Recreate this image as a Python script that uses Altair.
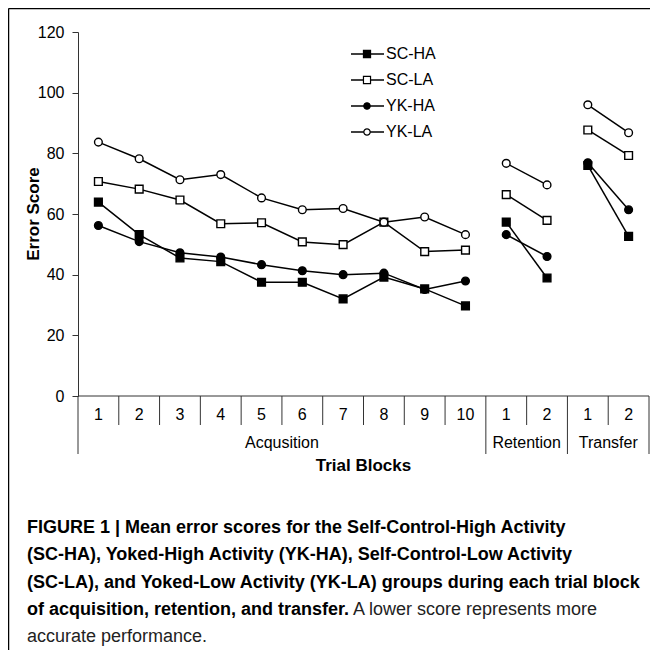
import altair as alt
import pandas as pd

# ---- data ----
block_labels = ["1", "2", "3", "4", "5", "6", "7", "8", "9", "10", "1", "2", "1", "2"]
phases = ["Acqusition"] * 10 + ["Retention"] * 2 + ["Transfer"] * 2
series_names = ["SC-HA", "SC-LA", "YK-HA", "YK-LA"]
sc_ha = [63.9, 53.2, 45.5, 44.3, 37.5, 37.5, 32.0, 39.2, 35.3, 29.7, 57.3, 38.9, 76.0, 52.6]
sc_la = [70.7, 68.2, 64.6, 56.8, 57.1, 50.8, 49.9, 57.3, 47.6, 48.1, 66.4, 57.9, 87.7, 79.3]
yk_ha = [56.2, 50.9, 47.2, 45.8, 43.3, 41.3, 40.0, 40.5, 35.1, 37.9, 53.2, 46.0, 76.9, 61.4]
yk_la = [83.7, 78.2, 71.3, 73.0, 65.3, 61.4, 61.8, 57.3, 59.0, 53.2, 76.7, 69.6, 96.0, 86.8]
y_ticks = [0, 20, 40, 60, 80, 100, 120]

caption_bold = [
    "FIGURE 1 | Mean error scores for the Self-Control-High Activity",
    "(SC-HA), Yoked-High Activity (YK-HA), Self-Control-Low Activity",
    "(SC-LA), and Yoked-Low Activity (YK-LA) groups during each trial block",
    "of acquisition, retention, and transfer.",
]
caption_normal = ["A lower score represents more", "accurate performance."]

# ---- tables ----
all_vals = {"SC-HA": sc_ha, "SC-LA": sc_la, "YK-HA": yk_ha, "YK-LA": yk_la}
rows = []
for s in series_names:
    for i, v in enumerate(all_vals[s]):
        rows.append({"idx": i, "value": v, "series": s, "phase": phases[i],
                     "seg": s + "|" + phases[i]})
df = pd.DataFrame(rows)

n = len(block_labels)
minor_b, major_b = [], []
for b in range(n + 1):
    left = phases[b - 1] if b > 0 else None
    right = phases[b] if b < n else None
    (major_b if left != right else minor_b).append(b - 0.5)
minor_df = pd.DataFrame({"bx": minor_b})
major_df = pd.DataFrame({"bx": major_b})
labdf = pd.DataFrame({"idx": list(range(n)), "lab": block_labels})
grp = []
for p in dict.fromkeys(phases):
    ids = [i for i, q in enumerate(phases) if q == p]
    grp.append({"gx": (ids[0] + ids[-1]) / 2, "name": p})
gdf = pd.DataFrame(grp)

FONT = "Liberation Sans"
LINE = "#333333"
W, H = 571, 364
xs = alt.Scale(domain=[-0.5, n - 0.5], nice=False, zero=False)
ys = alt.Scale(domain=[0, 120], nice=False, zero=True)
yaxis = alt.Axis(values=y_ticks, tickSize=6, labelPadding=8, labelFont=FONT,
                 labelFontSize=16, labelColor="black", domainColor=LINE,
                 tickColor=LINE, grid=False, title=None)
one = pd.DataFrame({"a": [0]})

base = alt.Chart(df)

lines = base.mark_line(color="black", strokeWidth=1.5).encode(
    x=alt.X("idx:Q", scale=xs, axis=None),
    y=alt.Y("value:Q", scale=ys, axis=yaxis),
    detail="seg:N",
)

points = base.mark_point(filled=True, stroke="black", strokeWidth=1.4, opacity=1, size=60).encode(
    x=alt.X("idx:Q", scale=xs, axis=None),
    y=alt.Y("value:Q", scale=ys, axis=yaxis),
    shape=alt.Shape("series:N", scale=alt.Scale(domain=series_names,
                    range=["square", "square", "circle", "circle"]), legend=None),
    fill=alt.Fill("series:N", scale=alt.Scale(domain=series_names,
                  range=["black", "white", "black", "white"]), legend=None),
)

# table under the x axis
top_line = alt.Chart(one).mark_rule(color=LINE, strokeWidth=1).encode(
    x=alt.value(0), x2=alt.value(W), y=alt.value(H))
minor = alt.Chart(minor_df).mark_rule(color=LINE, strokeWidth=1).encode(
    x=alt.X("bx:Q", scale=xs, axis=None), y=alt.value(H), y2=alt.value(H + 29))
major = alt.Chart(major_df).mark_rule(color=LINE, strokeWidth=1).encode(
    x=alt.X("bx:Q", scale=xs, axis=None), y=alt.value(H), y2=alt.value(H + 58))
tick_text = alt.Chart(labdf).mark_text(font=FONT, fontSize=16, color="black", baseline="middle").encode(
    x=alt.X("idx:Q", scale=xs, axis=None), y=alt.value(H + 19), text="lab:N")
grp_text = alt.Chart(gdf).mark_text(font=FONT, fontSize=16, color="black", baseline="middle").encode(
    x=alt.X("gx:Q", scale=xs, axis=None), y=alt.value(H + 47), text="name:N")
x_title = alt.Chart(one).mark_text(font=FONT, fontSize=17, fontWeight="bold", color="black",
                                   baseline="middle", text="Trial Blocks").encode(
    x=alt.value(W / 2), y=alt.value(H + 70))
y_title = alt.Chart(one).mark_text(font=FONT, fontSize=17, fontWeight="bold", color="black",
                                   baseline="middle", angle=270, text="Error Score").encode(
    x=alt.value(-44), y=alt.value(H / 2))

# legend
legend_layers = []
for i, s in enumerate(series_names):
    yy = 22 + 26 * i
    legend_layers.append(alt.Chart(one).mark_rule(color="black", strokeWidth=1.5).encode(
        x=alt.value(273), x2=alt.value(306), y=alt.value(yy)))
    legend_layers.append(alt.Chart(one).mark_point(
        filled=True, stroke="black", strokeWidth=1.2, opacity=1, size=50 if i < 2 else 40,
        shape="square" if i < 2 else "circle",
        fill="black" if i % 2 == 0 else "white").encode(x=alt.value(289), y=alt.value(yy)))
    legend_layers.append(alt.Chart(one).mark_text(font=FONT, fontSize=16, color="black",
                                                  align="left", baseline="middle", text=s).encode(
        x=alt.value(308), y=alt.value(yy)))

# caption
cap_layers = []
cap_x = -51
CAP = 18
for i, t in enumerate(caption_bold):
    cap_layers.append(alt.Chart(one).mark_text(font=FONT, fontSize=CAP, fontWeight="bold",
                                               color="black", align="left", baseline="middle",
                                               text=t).encode(
        x=alt.value(cap_x), y=alt.value(496 + 27.3 * i)))
cap_layers.append(alt.Chart(one).mark_text(font=FONT, fontSize=CAP, color="#222222",
                                           align="left", baseline="middle",
                                           text=caption_normal[0]).encode(
    x=alt.value(275), y=alt.value(496 + 27.3 * 3)))
cap_layers.append(alt.Chart(one).mark_text(font=FONT, fontSize=CAP, color="#222222",
                                           align="left", baseline="middle",
                                           text=caption_normal[1]).encode(
    x=alt.value(cap_x), y=alt.value(496 + 27.3 * 4)))

# figure frame (top + left)
frame_top = alt.Chart(one).mark_rule(color="black", strokeWidth=1.5).encode(
    x=alt.value(-69.5), x2=alt.value(W + 1), y=alt.value(-23.5))
frame_left = alt.Chart(one).mark_rule(color="black", strokeWidth=1.5).encode(
    x=alt.value(-69.5), y=alt.value(-23.5), y2=alt.value(H + 254))

chart = alt.layer(
    lines, points, frame_top, frame_left, top_line, minor, major, tick_text, grp_text,
    x_title, y_title, *legend_layers, *cap_layers
).properties(
    width=W, height=H,
    padding={"left": 70, "top": 24, "right": 1, "bottom": 254},
    autosize=alt.AutoSizeParams(type="none"),
    background="white",
).configure_view(stroke=None)

chart.save("out.html", embed_options={"renderer": "svg", "actions": False})
